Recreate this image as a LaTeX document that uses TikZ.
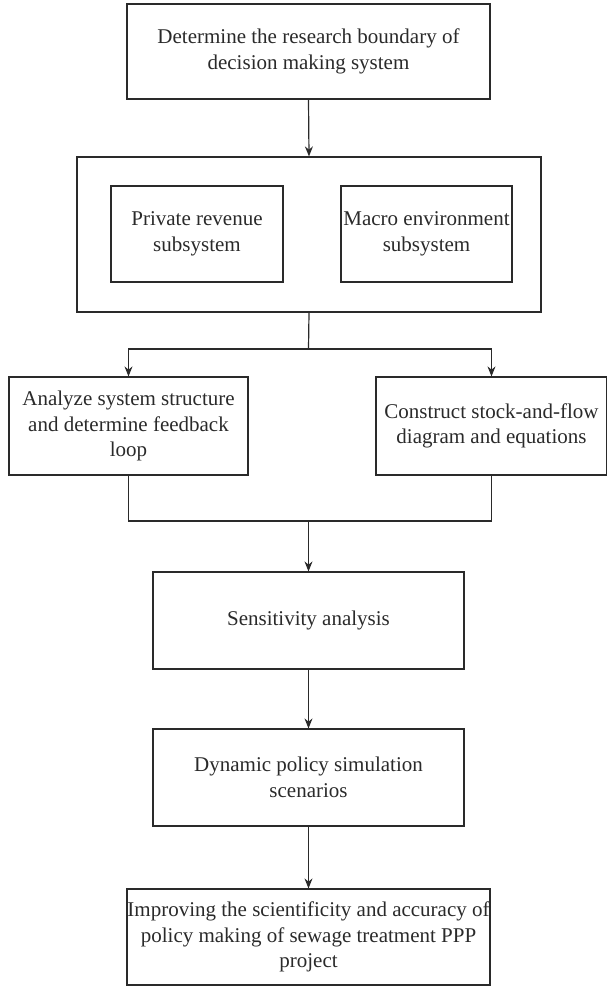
\documentclass[tikz,border=0pt]{standalone}
\usepackage{fontspec}
\setmainfont{Liberation Serif}
\usetikzlibrary{arrows.meta}
\definecolor{ink}{HTML}{2A2A2A}
\begin{document}
\begin{tikzpicture}[x=1pt,y=-1pt,
  box/.style={draw=ink,line width=1.2pt,inner sep=0pt,align=center,text=ink,
    font=\fontsize{21}{25.5}\selectfont},
  conn/.style={draw=ink,line width=1.2pt},
  arr/.style={conn,-{Stealth[length=10pt,width=8pt]}}]
\useasboundingbox (0,0) rectangle (607,987);
\node[box,minimum width=363pt,minimum height=95pt] (b1) at (308.5,51.5)
  {Determine the research boundary of\\decision making system};
\node[box,minimum width=464pt,minimum height=155pt] (big) at (309,234.5) {};
\node[box,minimum width=172pt,minimum height=96pt] (p) at (197,234)
  {Private revenue\\subsystem};
\node[box,minimum width=171pt,minimum height=96pt] (m) at (426.5,234)
  {Macro environment\\subsystem};
\node[box,minimum width=239pt,minimum height=98pt] (a) at (128.5,426)
  {Analyze system structure\\and determine feedback\\loop};
\node[box,minimum width=231pt,minimum height=98pt] (c) at (491.5,426)
  {Construct stock-and-flow\\diagram and equations};
\node[box,minimum width=311pt,minimum height=97pt] (s) at (308.5,620.5)
  {Sensitivity analysis};
\node[box,minimum width=311pt,minimum height=97pt] (d) at (308.5,777.5)
  {Dynamic policy simulation\\scenarios};
\node[box,minimum width=363pt,minimum height=96pt] (f) at (308.5,937)
  {Improving the scientificity and accuracy of\\policy making of sewage treatment PPP\\project};
\coordinate (j1) at (308.5,349);
\coordinate (j2) at (308.5,521);
\draw[arr] (b1.south) -- (big.north);
\draw[conn] (big.south) -- (j1);
\draw[arr] (j1) -| (a.north);
\draw[arr] (j1) -| (c.north);
\draw[conn] (a.south) |- (j2);
\draw[conn] (c.south) |- (j2);
\draw[arr] (j2) -- (s.north);
\draw[arr] (s.south) -- (d.north);
\draw[arr] (d.south) -- (f.north);
\end{tikzpicture}
\end{document}
